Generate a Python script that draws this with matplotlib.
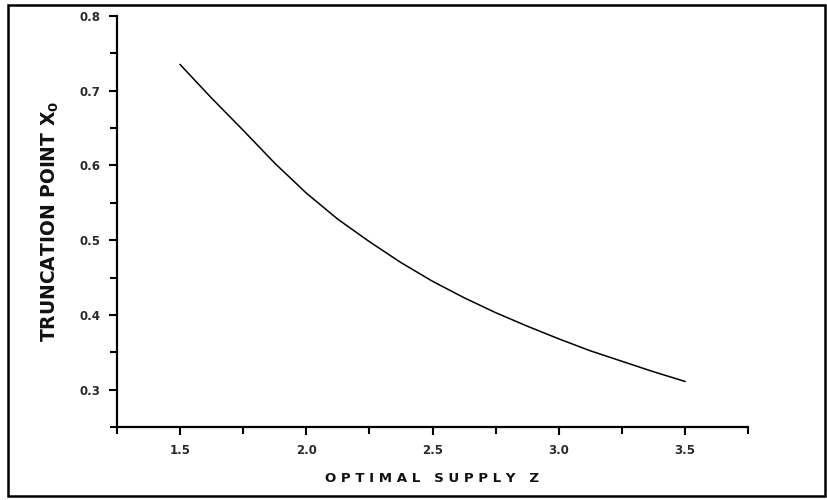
import matplotlib
matplotlib.use('Agg')
import matplotlib.pyplot as plt
from matplotlib.patches import Rectangle
from matplotlib.ticker import MultipleLocator

plt.rcParams['font.family'] = 'DejaVu Sans'
plt.rcParams['mathtext.fontset'] = 'custom'
plt.rcParams['mathtext.rm'] = 'DejaVu Sans:bold'
plt.rcParams['mathtext.it'] = 'DejaVu Sans:bold'
plt.rcParams['mathtext.bf'] = 'DejaVu Sans:bold'

# values
supply_z = [1.5, 1.625, 1.75, 1.875, 2.0, 2.125, 2.25, 2.375, 2.5,
            2.625, 2.75, 2.875, 3.0, 3.125, 3.25, 3.375, 3.5]
trunc_x0 = [0.735, 0.690, 0.647, 0.603, 0.563, 0.528, 0.498, 0.470, 0.445,
            0.423, 0.403, 0.385, 0.368, 0.352, 0.338, 0.324, 0.311]

x_ticks = [1.5, 2.0, 2.5, 3.0, 3.5]
x_labels = ['1.5', '2.0', '2.5', '3.0', '3.5']
y_ticks = [0.3, 0.4, 0.5, 0.6, 0.7, 0.8]
y_labels = ['0.3', '0.4', '0.5', '0.6', '0.7', '0.8']

fig = plt.figure(figsize=(8.27, 5), dpi=100)
ax = fig.add_axes([0.1415, 0.146, 0.763, 0.822])

ax.plot(supply_z, trunc_x0, color='black', lw=1.1)

ax.set_xlim(1.25, 3.75)
ax.set_ylim(0.25, 0.8)
ax.set_xticks(x_ticks)
ax.set_xticklabels(x_labels)
ax.set_yticks(y_ticks)
ax.set_yticklabels(y_labels)
ax.xaxis.set_minor_locator(MultipleLocator(0.25))
ax.yaxis.set_minor_locator(MultipleLocator(0.05))

for s in ['top', 'right']:
    ax.spines[s].set_visible(False)
for s in ['left', 'bottom']:
    ax.spines[s].set_linewidth(1.6)

ax.tick_params(which='major', direction='out', length=6, width=1.5,
               labelsize=8.5, pad=6)
ax.tick_params(which='minor', direction='out', length=5, width=1.5)
for lab in ax.get_xticklabels() + ax.get_yticklabels():
    lab.set_fontweight('bold')
    lab.set_color('#2a2a2a')

ax.set_xlabel('O P T I M A L   S U P P L Y   Z', fontsize=9.6, fontweight='bold',
              labelpad=11, color='#111111')
ax.set_ylabel(r'TRUNCATION POINT X$_{0}$', fontsize=13.5, fontweight='bold',
              labelpad=13, color='#111111')

# outer frame
fig.patches.append(Rectangle((0.0097, 0.008), 0.988, 0.982, transform=fig.transFigure,
                             fill=False, edgecolor='black', lw=1.8))

fig.savefig('out.png', dpi=100)
